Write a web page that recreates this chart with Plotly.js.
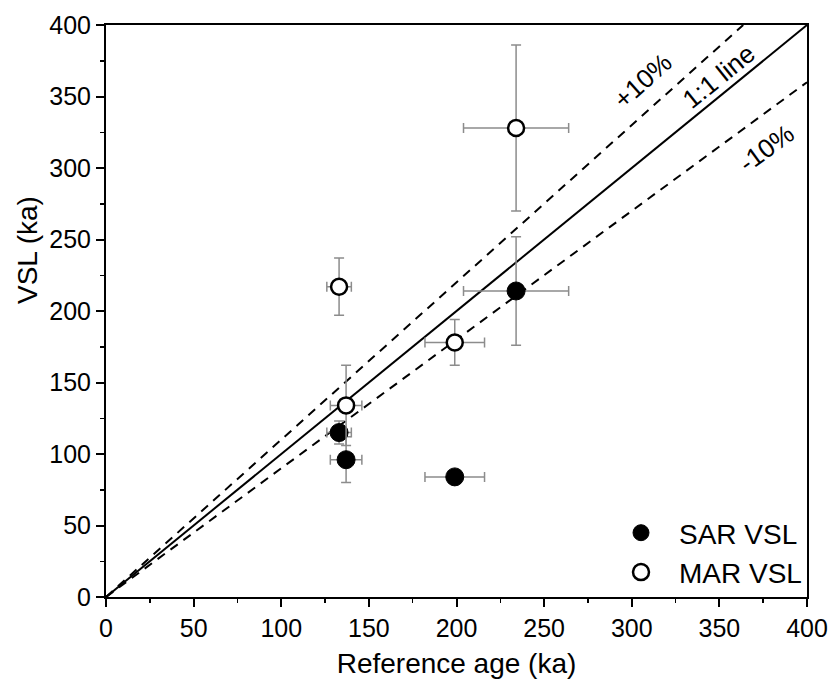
<!DOCTYPE html>
<html>
<head>
<meta charset="utf-8">
<script src="https://cdn.plot.ly/plotly-3.0.1.min.js"></script>
<style>html,body{margin:0;padding:0;background:#fff;}#chart{width:832px;height:683px;}</style>
</head>
<body>
<div id="chart"></div>
<script>
// Reference ages (ka) and 1-sigma uncertainties
const refAge = [133, 137, 199, 234];
const refAgeErr = [7, 9, 17, 30];
// SAR VSL ages
const sarVSL = [115, 96, 84, 214];
const sarVSLErr = [8, 16, 4, 38];
// MAR VSL ages
const marVSL = [217, 134, 178, 328];
const marVSLErr = [20, 28, 16, 58];
// Reference lines: 1:1, +10%, -10%
const lineX = [0, 400];
const oneToOne = [0, 400];
const plus10X = [0, 363.6];
const plus10Y = [0, 400];
const minus10Y = [0, 360];
const xTicks = [0, 50, 100, 150, 200, 250, 300, 350, 400];
const yTicks = [0, 50, 100, 150, 200, 250, 300, 350, 400];

const errStyle = {color: '#8c8c8c', thickness: 1.5, width: 5};
const font = "'Liberation Sans', Arial, sans-serif";

const traces = [
  {x: lineX, y: oneToOne, mode: 'lines', line: {color: '#000', width: 2}, showlegend: false, hoverinfo: 'skip'},
  {x: plus10X, y: plus10Y, mode: 'lines', line: {color: '#000', width: 2, dash: '9px,7px'}, showlegend: false, hoverinfo: 'skip'},
  {x: lineX, y: minus10Y, mode: 'lines', line: {color: '#000', width: 2, dash: '9px,7px'}, showlegend: false, hoverinfo: 'skip'},
  {x: refAge, y: sarVSL, mode: 'markers', name: 'SAR VSL',
   error_x: Object.assign({type: 'data', array: refAgeErr, visible: true}, errStyle),
   error_y: Object.assign({type: 'data', array: sarVSLErr, visible: true}, errStyle),
   marker: {symbol: 'circle', size: 18, color: '#000', line: {color: '#000', width: 1}}},
  {x: refAge, y: marVSL, mode: 'markers', name: 'MAR VSL',
   error_x: Object.assign({type: 'data', array: refAgeErr, visible: true}, errStyle),
   error_y: Object.assign({type: 'data', array: marVSLErr, visible: true}, errStyle),
   marker: {symbol: 'circle', size: 16, color: '#fff', line: {color: '#000', width: 2.5}}}
];

const axisBase = {
  showline: true, linecolor: '#000', linewidth: 2, mirror: true,
  ticks: 'outside', ticklen: 8, tickwidth: 2, tickcolor: '#000',
  showgrid: false, zeroline: false,
  tickfont: {family: font, size: 25, color: '#000'},
  minor: {ticks: 'outside', ticklen: 4, tickwidth: 1.5, tickcolor: '#000', dtick: 25, showgrid: false}
};

const layout = {
  width: 832, height: 683,
  margin: {l: 106, r: 25, t: 25, b: 86},
  paper_bgcolor: '#fff', plot_bgcolor: '#fff',
  font: {family: font, color: '#000'},
  showlegend: true,
  legend: {x: 1.0, y: 0.0, xanchor: 'right', yanchor: 'bottom', bgcolor: 'rgba(0,0,0,0)',
           font: {family: font, size: 28, color: '#000'}, tracegroupgap: 0, itemwidth: 66},
  xaxis: Object.assign({}, axisBase, {range: [0, 400], tickvals: xTicks, ticktext: xTicks.map(String),
    title: {text: 'Reference age (ka)', font: {family: font, size: 28, color: '#000'}, standoff: 12}}),
  yaxis: Object.assign({}, axisBase, {range: [0, 400], tickvals: yTicks, ticktext: yTicks.map(String)}),
  annotations: [
    {x: -0.111, y: 0.607, xref: 'paper', yref: 'paper', xanchor: 'center', yanchor: 'middle',
     text: 'VSL (ka)', showarrow: false, textangle: -90,
     font: {family: font, size: 28, color: '#000'}},
    {x: 306, y: 361, xref: 'x', yref: 'y', text: '+10%', showarrow: false, textangle: -42,
     font: {family: font, size: 26, color: '#000'}},
    {x: 350, y: 364, xref: 'x', yref: 'y', text: '1:1 line', showarrow: false, textangle: -39,
     font: {family: font, size: 26, color: '#000'}},
    {x: 377, y: 314, xref: 'x', yref: 'y', text: '-10%', showarrow: false, textangle: -36,
     font: {family: font, size: 26, color: '#000'}}
  ]
};

Plotly.newPlot('chart', traces, layout, {displayModeBar: false, staticPlot: true});
</script>
</body>
</html>
